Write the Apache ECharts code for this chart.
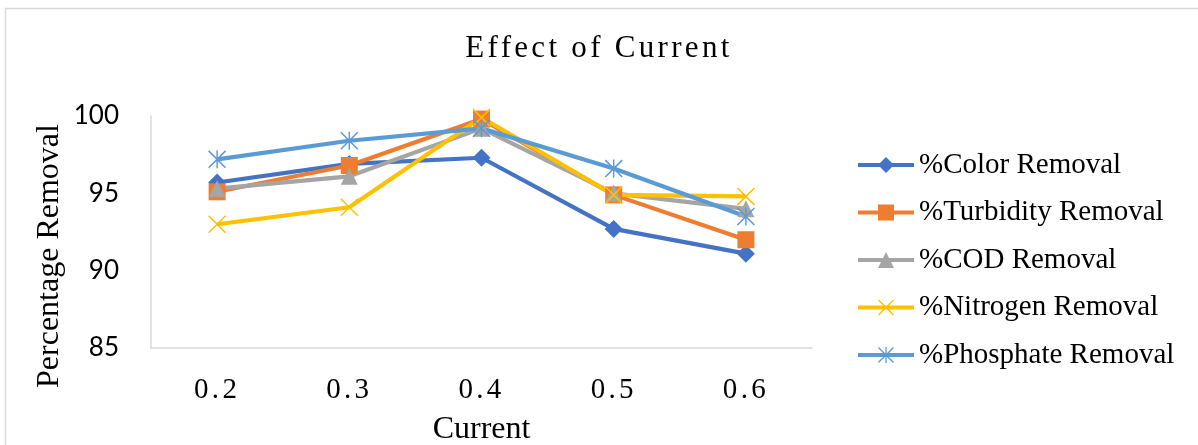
<!DOCTYPE html>
<html>
<head>
<meta charset="utf-8">
<script src="https://cdn.jsdelivr.net/npm/echarts@6/dist/echarts.min.js"></script>
<style>
html,body{margin:0;padding:0;background:#fff;}
#chart{width:1198px;height:445px;}
</style>
</head>
<body>
<div id="chart"></div>
<script>
const categories = ['0.2', '0.3', '0.4', '0.5', '0.6'];
const colorRemoval = [95.7, 96.9, 97.3, 92.7, 91.1];
const turbidityRemoval = [95.1, 96.8, 99.8, 94.9, 92.0];
const codRemoval = [95.3, 96.1, 99.2, 95.0, 94.0];
const nitrogenRemoval = [93.0, 94.1, 99.9, 94.9, 94.8];
const phosphateRemoval = [97.2, 98.4, 99.2, 96.6, 93.5];
const seriesNames = ['%Color Removal', '%Turbidity Removal', '%COD Removal', '%Nitrogen Removal', '%Phosphate Removal'];
const yTicks = [85, 90, 95, 100];
const titleText = 'Effect of Current';

const serif = 'Liberation Serif';
const X_PATH = 'path://M0 1.2 L1.2 0 L20 18.8 L18.8 20 Z M18.8 0 L20 1.2 L1.2 20 L0 18.8 Z';
const STAR_PATH = 'path://M0 1.2 L1.2 0 L20 18.8 L18.8 20 Z M18.8 0 L20 1.2 L1.2 20 L0 18.8 Z M9.2 0 L10.8 0 L10.8 20 L9.2 20 Z';

// wide character spacing for the title and category labels (as in the reference)
(function () {
  const proto = CanvasRenderingContext2D.prototype;
  const origFill = proto.fillText;
  const spacing = {};
  spacing[titleText] = '3.3px';
  categories.forEach(function (c) { spacing[c] = '3.3px'; });
  proto.fillText = function (text, x, y, maxW) {
    const sp = spacing[text];
    if (sp && 'letterSpacing' in this) {
      this.save();
      this.letterSpacing = sp;
      if (maxW === undefined) origFill.call(this, text, x, y); else origFill.call(this, text, x, y, maxW);
      this.restore();
      return;
    }
    if (maxW === undefined) origFill.call(this, text, x, y); else origFill.call(this, text, x, y, maxW);
  };
})();

function mkSeries(name, data, color, symbol, size) {
  return {
    name: name, type: 'line', data: data,
    symbol: symbol, symbolSize: size, showSymbol: true,
    lineStyle: {color: color, width: 4.2},
    itemStyle: {color: color},
    clip: false
  };
}

const chart = echarts.init(document.getElementById('chart'), null, {renderer: 'canvas'});
chart.setOption({
  animation: false,
  backgroundColor: '#fff',
  textStyle: {fontFamily: serif, color: '#000'},
  title: {
    text: titleText, left: 'center', top: 28,
    textStyle: {fontFamily: serif, fontSize: 31, fontWeight: 'normal', color: '#000'}
  },
  grid: {left: 151, right: 386, top: 116, bottom: 97, outerBoundsMode: 'none', containLabel: false},
  xAxis: {
    type: 'category', data: categories, boundaryGap: true,
    axisLine: {lineStyle: {color: '#D9D9D9', width: 1.5}},
    axisTick: {show: false},
    axisLabel: {fontFamily: serif, fontSize: 29, fontWeight: 'normal', color: '#000', margin: 28},
    name: 'Current', nameLocation: 'middle', nameGap: 66,
    nameTextStyle: {fontFamily: serif, fontSize: 32, fontWeight: 'normal', color: '#000'}
  },
  yAxis: {
    type: 'value', min: yTicks[0], max: yTicks[yTicks.length - 1], interval: 5,
    axisLine: {show: true, lineStyle: {color: '#D9D9D9', width: 1.5}},
    axisTick: {show: false},
    splitLine: {show: false},
    axisLabel: {fontFamily: 'Lato', fontSize: 26, color: '#000', margin: 32}
  },
  legend: {
    orient: 'vertical', left: 851, top: 145,
    itemWidth: 56, itemHeight: 20, itemGap: 17.5,
    lineStyle: {width: 4},
    textStyle: {fontFamily: serif, fontSize: 29, fontWeight: 'normal', color: '#000', lineHeight: 30},
    data: seriesNames
  },
  graphic: [
    {type: 'rect', silent: true, z: -10,
     shape: {x: 5.5, y: 8.5, width: 1300, height: 500},
     style: {fill: 'none', stroke: '#D9D9D9', lineWidth: 1.5}},
    {type: 'text', x: 50, y: 256, rotation: Math.PI / 2, silent: true,
     style: {text: 'Percentage Removal', font: '32px "Liberation Serif"', fill: '#000',
             textAlign: 'center', textVerticalAlign: 'middle'}}
  ],
  series: [
    mkSeries(seriesNames[0], colorRemoval, '#4472C4', 'diamond', 18),
    mkSeries(seriesNames[1], turbidityRemoval, '#ED7D31', 'rect', 17),
    mkSeries(seriesNames[2], codRemoval, '#A5A5A5', 'triangle', 17),
    mkSeries(seriesNames[3], nitrogenRemoval, '#FFC000', X_PATH, 18),
    mkSeries(seriesNames[4], phosphateRemoval, '#5B9BD5', STAR_PATH, 18)
  ]
});
</script>
</body>
</html>
